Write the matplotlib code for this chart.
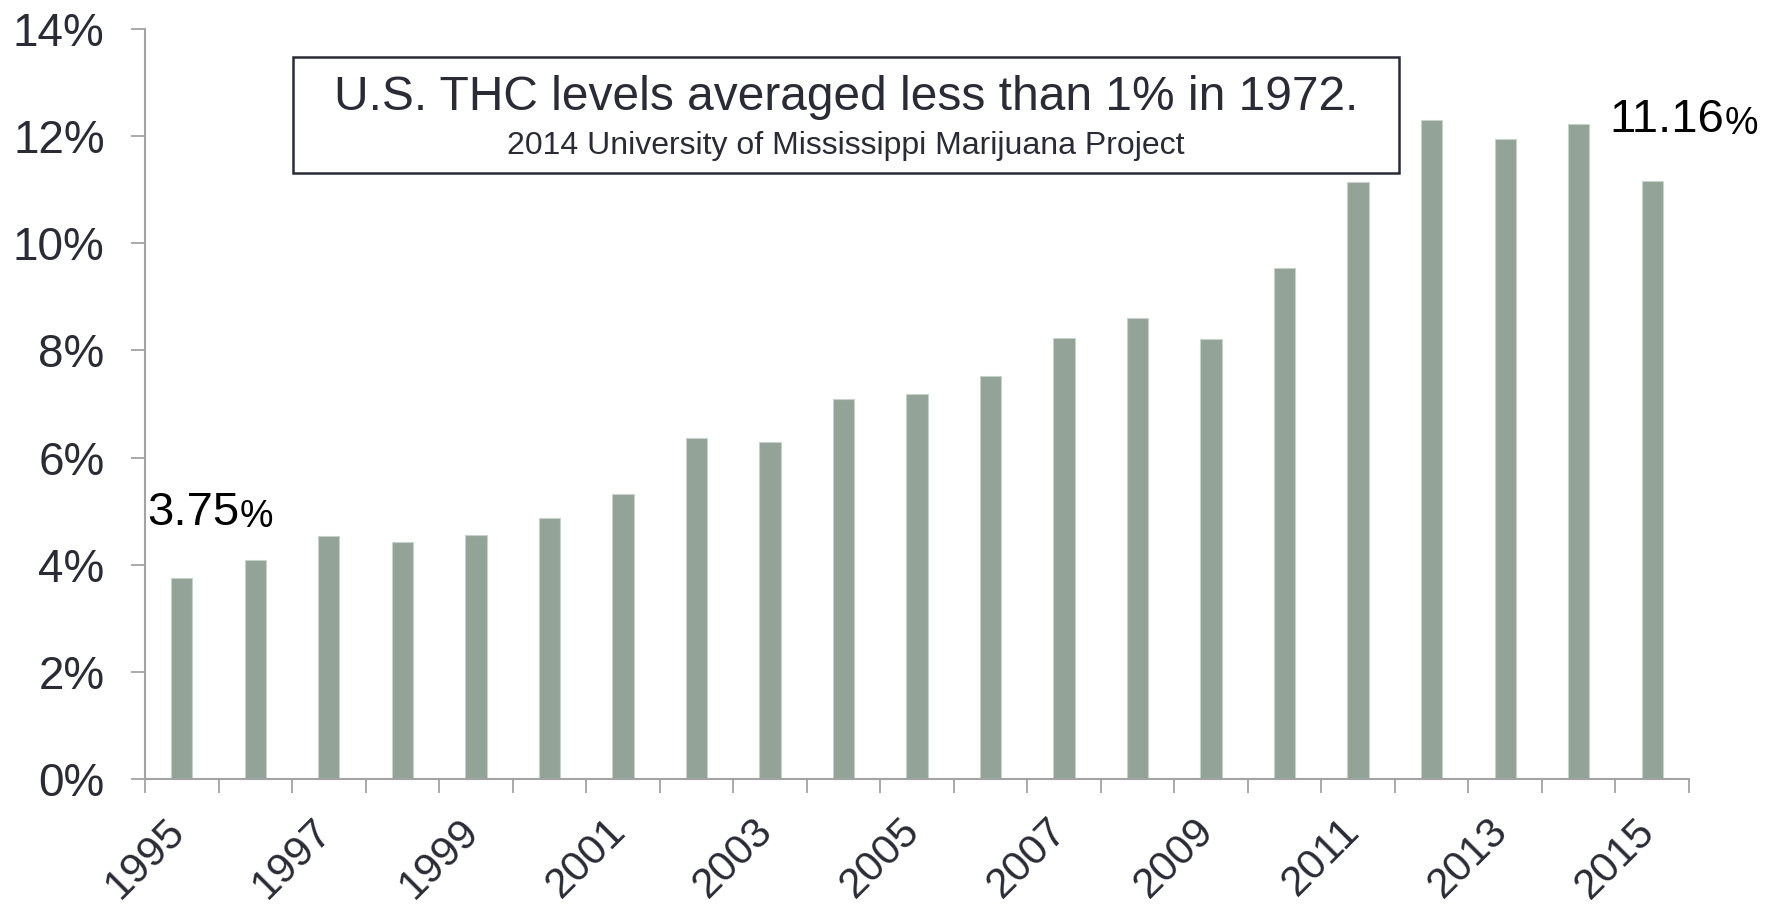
import matplotlib
matplotlib.use("Agg")
import matplotlib.pyplot as plt
from matplotlib.patches import Rectangle

plt.rcParams['font.family'] = ['Liberation Sans', 'DejaVu Sans']

years = list(range(1995, 2016))
thc = [3.75, 4.08, 4.54, 4.43, 4.56, 4.88, 5.32, 6.36, 6.29, 7.09, 7.18,
       7.52, 8.23, 8.61, 8.21, 9.54, 11.15, 12.31, 11.95, 12.23, 11.16]
ytick_vals = [0, 2, 4, 6, 8, 10, 12, 14]
ytick_labels = [f"{v}%" for v in ytick_vals]
title = "U.S. THC levels averaged less than 1% in 1972."
subtitle = "2014 University of Mississippi Marijuana Project"

W, H = 1771, 914
fig = plt.figure(figsize=(W / 100, H / 100), dpi=100)
ax = fig.add_axes([145 / W, 1 - 779 / H, (1689 - 145) / W, (779 - 29) / H])

bar_color = '#93a398'
text_color = '#2b2b36'
spine_color = '#a3a3a3'

x = list(range(len(years)))
ax.bar(x, thc, width=0.29, color=bar_color, edgecolor='#c9d1cb', linewidth=0.8)

ax.set_xlim(-0.5, len(years) - 0.5)
ax.set_ylim(0, 14)

tick_pos = [i - 0.5 for i in range(len(years) + 1)]
tick_lab = [str(years[i]) if (i % 2 == 0 and i < len(years)) else '' for i in range(len(years) + 1)]
ax.set_xticks(tick_pos)
ax.set_xticklabels(tick_lab, rotation=45, ha='center', fontsize=30.5, color=text_color)
ax.set_yticks(ytick_vals)
ax.set_yticklabels(ytick_labels, fontsize=33, color=text_color)

ax.tick_params(axis='x', length=10, width=1.3, color=spine_color, pad=13)
ax.tick_params(axis='y', length=10, width=1.3, color=spine_color, pad=19)

for s in ['top', 'right']:
    ax.spines[s].set_visible(False)
for s in ['left', 'bottom']:
    ax.spines[s].set_color(spine_color)
    ax.spines[s].set_linewidth(1.5)

# value annotations
t1 = ax.text(-0.47, 4.74, f"{thc[0]:.2f}", fontsize=34, color='black', va='baseline', ha='left')
ax.annotate('%', xy=(1, 0), xycoords=t1, va='bottom', ha='left', fontsize=27, color='black')
t2 = ax.text(19.42, 12.08, f"{thc[-1]:.2f}", fontsize=34, color='black', va='baseline', ha='left')
ax.annotate('%', xy=(1, 0), xycoords=t2, va='bottom', ha='left', fontsize=27, color='black')

# title box
rect = Rectangle((293 / W, 1 - 173 / H), (1399 - 293) / W, (173 - 57) / H,
                 transform=fig.transFigure, fill=False, edgecolor=text_color, linewidth=1.8)
fig.patches.append(rect)
fig.text(846 / W, 1 - 98 / H, title, ha='center', va='center', fontsize=34.5, color=text_color)
fig.text(846 / W, 1 - 146 / H, subtitle, ha='center', va='center', fontsize=23, color=text_color)

fig.savefig('out.png', dpi=100)
